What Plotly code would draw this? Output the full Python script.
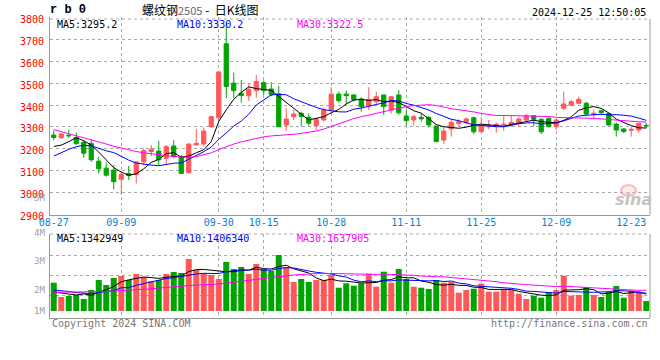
import plotly.graph_objects as go

# ---------------- data ----------------
dates = ["08-27", "08-28", "08-29", "08-30",
         "09-02", "09-03", "09-04", "09-05", "09-06", "09-09", "09-10", "09-11", "09-12", "09-13",
         "09-18", "09-19", "09-20", "09-23", "09-24", "09-25", "09-26", "09-27", "09-30",
         "10-08", "10-09", "10-10", "10-11", "10-14", "10-15", "10-16", "10-17", "10-18",
         "10-21", "10-22", "10-23", "10-24", "10-25", "10-28", "10-29", "10-30", "10-31",
         "11-01", "11-04", "11-05", "11-06", "11-07", "11-08", "11-11", "11-12", "11-13", "11-14", "11-15",
         "11-18", "11-19", "11-20", "11-21", "11-22", "11-25", "11-26", "11-27", "11-28", "11-29",
         "12-02", "12-03", "12-04", "12-05", "12-06", "12-09", "12-10", "12-11", "12-12", "12-13",
         "12-16", "12-17", "12-18", "12-19", "12-20", "12-23", "12-24", "12-25"]

open_ = [3263, 3251, 3262, 3252, 3230, 3225, 3144, 3112, 3103, 3061,
         3088, 3083, 3141, 3188, 3190, 3157, 3213, 3164, 3091, 3218,
         3222, 3301, 3342, 3680, 3500, 3454, 3442, 3466, 3502, 3473,
         3451, 3309, 3347, 3362, 3344, 3306, 3332, 3377, 3450, 3450,
         3446, 3428, 3396, 3415, 3446, 3377, 3446, 3350, 3332, 3344,
         3344, 3304, 3240, 3291, 3316, 3321, 3342, 3278, 3301, 3306,
         3309, 3309, 3316, 3332, 3351, 3335, 3339, 3301, 3385, 3400,
         3408, 3408, 3358, 3374, 3362, 3313, 3291, 3285, 3286, 3307]
high = [3284, 3272, 3286, 3274, 3240, 3240, 3164, 3137, 3126, 3096,
        3122, 3142, 3202, 3218, 3236, 3218, 3240, 3173, 3224, 3291,
        3298, 3350, 3552, 3775, 3548, 3515, 3495, 3537, 3512, 3504,
        3487, 3385, 3377, 3370, 3362, 3340, 3388, 3481, 3461, 3466,
        3449, 3435, 3481, 3461, 3447, 3441, 3469, 3377, 3355, 3362,
        3350, 3305, 3301, 3335, 3335, 3344, 3347, 3344, 3332, 3320,
        3354, 3350, 3344, 3359, 3354, 3339, 3347, 3339, 3461, 3423,
        3438, 3415, 3380, 3380, 3365, 3320, 3294, 3301, 3320, 3318]
low = [3240, 3246, 3250, 3217, 3160, 3141, 3088, 3073, 3015, 2991,
       3058, 3042, 3126, 3167, 3126, 3126, 3157, 3085, 3088, 3216,
       3210, 3296, 3332, 3431, 3431, 3411, 3419, 3434, 3446, 3440,
       3300, 3283, 3332, 3301, 3306, 3286, 3324, 3370, 3411, 3405,
       3415, 3370, 3377, 3400, 3355, 3362, 3355, 3306, 3306, 3324,
       3298, 3232, 3222, 3256, 3301, 3312, 3268, 3276, 3291, 3274,
       3283, 3301, 3301, 3324, 3301, 3268, 3298, 3286, 3377, 3393,
       3404, 3354, 3335, 3354, 3306, 3256, 3271, 3256, 3274, 3294]
close = [3252, 3268, 3260, 3225, 3180, 3150, 3109, 3080, 3050, 3083,
         3078, 3140, 3192, 3198, 3150, 3210, 3165, 3088, 3222, 3225,
         3281, 3347, 3551, 3485, 3466, 3443, 3472, 3507, 3466, 3447,
         3301, 3336, 3359, 3348, 3317, 3335, 3377, 3450, 3420, 3443,
         3424, 3393, 3426, 3438, 3393, 3438, 3365, 3329, 3347, 3337,
         3309, 3233, 3281, 3321, 3324, 3336, 3278, 3306, 3306, 3312,
         3312, 3321, 3336, 3351, 3335, 3278, 3301, 3332, 3405, 3415,
         3426, 3359, 3362, 3365, 3309, 3286, 3279, 3289, 3316, 3305]

ma5 = [3211, 3217, 3233, 3251, 3237, 3217, 3185, 3149, 3114, 3094,
       3080, 3086, 3109, 3138, 3152, 3178, 3183, 3162, 3167, 3182,
       3196, 3233, 3325, 3378, 3426, 3458, 3483, 3475, 3471, 3467,
       3439, 3411, 3382, 3358, 3332, 3339, 3347, 3365, 3380, 3405,
       3423, 3426, 3421, 3425, 3415, 3418, 3412, 3393, 3374, 3363,
       3337, 3311, 3301, 3296, 3294, 3299, 3308, 3313, 3310, 3308,
       3303, 3311, 3317, 3326, 3331, 3324, 3320, 3319, 3330, 3346,
       3376, 3387, 3393, 3385, 3364, 3336, 3320, 3306, 3296, 3295.2]
ma10 = [3167, 3184, 3198, 3210, 3216, 3214, 3201, 3191, 3183, 3166,
        3148.5, 3135.5, 3129, 3126, 3123, 3129, 3134.5, 3135.5, 3152.5, 3167,
        3187, 3208, 3243.5, 3272.5, 3304, 3327, 3358, 3400, 3424.5, 3446.5,
        3448.5, 3447, 3428.5, 3414.5, 3399.5, 3389, 3379, 3373.5, 3369, 3368.5,
        3381, 3386.5, 3393, 3402.5, 3410, 3420.5, 3419, 3407, 3399.5, 3389,
        3377.5, 3361.5, 3347, 3335, 3328.5, 3318, 3309.5, 3307, 3303, 3301,
        3301, 3309.5, 3315, 3318, 3319.5, 3313.5, 3315.5, 3318, 3328, 3338.5,
        3350, 3353.5, 3356, 3357.5, 3355, 3356, 3353.5, 3349.5, 3340.5, 3330.2]
ma30 = [3288, 3279, 3268, 3260, 3252, 3242, 3232, 3222, 3212, 3203,
        3195, 3188, 3182, 3177, 3172, 3168, 3165, 3163, 3161, 3165,
        3172, 3182, 3197, 3210, 3222, 3232, 3240, 3248, 3255, 3259.2,
        3260.8, 3263.1, 3266.4, 3270.5, 3275.1, 3281.3, 3290.2, 3302.5, 3314.8, 3326.8,
        3338.3, 3346.7, 3354.5, 3362.5, 3370.6, 3378.2, 3384.9, 3392.9, 3397.1, 3400.8,
        3401.7, 3397.9, 3388.9, 3383.4, 3378.7, 3375.1, 3368.6, 3361.9, 3356.6, 3352.1,
        3352.5, 3352.0, 3351.2, 3351.3, 3351.9, 3350.0, 3347.5, 3343.6, 3343.1, 3342.2,
        3342.3, 3341.2, 3339.1, 3336.7, 3333.9, 3328.8, 3325.9, 3324.6, 3323.6, 3322.5]

volume = [2236000, 1106000, 1185000, 1264000, 948000, 1659000, 2449000, 2054000, 2607000, 2765000,
          2449000, 2923000, 2686000, 2370000, 2449000, 2923000, 3081000, 3002000, 4108000, 3239000,
          3002000, 2844000, 2528000, 3871000, 3318000, 3476000, 2923000, 3713000, 3318000, 3160000,
          4424000, 3476000, 2291000, 2528000, 2291000, 2449000, 2449000, 2844000, 1841000, 2188000,
          1999000, 2188000, 2947000, 1920000, 3105000, 2236000, 3318000, 2528000, 1920000, 1841000,
          1738000, 2449000, 2236000, 2291000, 1446000, 1659000, 1762000, 2157000, 1525000, 1525000,
          1659000, 1659000, 1367000, 948000, 1209000, 1051000, 1501000, 1659000, 2789000, 1209000,
          1264000, 1896000, 1264000, 1106000, 1501000, 1975000, 1051000, 1604000, 1446000, 790000]
vol_ma5 = [1501000, 1422000, 1343000, 1264000, 1351000, 1232000, 1501000, 1675000, 1943000, 2307000,
           2465000, 2560000, 2686000, 2639000, 2575000, 2670000, 2702000, 2765000, 3113000, 3271000,
           3286000, 3239000, 3144000, 3097000, 3113000, 3207000, 3223000, 3460000, 3350000, 3318000,
           3508000, 3618000, 3334000, 3176000, 3002000, 2607000, 2402000, 2512000, 2378000, 2354000,
           2267000, 2212000, 2236000, 2252000, 2433000, 2481000, 2702000, 2623000, 2623000, 2370000,
           2267000, 2094000, 2038000, 2109000, 2030000, 2015000, 1880000, 1864000, 1706000, 1722000,
           1722000, 1706000, 1548000, 1430000, 1367000, 1248000, 1217000, 1272000, 1643000, 1643000,
           1683000, 1762000, 1683000, 1351000, 1406000, 1548000, 1383000, 1446000, 1517000, 1342949]
vol_ma10 = [1659000, 1620000, 1541000, 1462000, 1406000, 1367000, 1462000, 1509000, 1604000, 1833000,
            1849000, 2030000, 2180000, 2291000, 2441000, 2568000, 2631000, 2726000, 2876000, 2923000,
            2978000, 2970000, 2955000, 3105000, 3192000, 3247000, 3231000, 3302000, 3223000, 3215000,
            3358000, 3421000, 3397000, 3263000, 3160000, 3057000, 3010000, 2923000, 2781000, 2678000,
            2441000, 2307000, 2378000, 2315000, 2394000, 2378000, 2457000, 2433000, 2441000, 2402000,
            2378000, 2402000, 2331000, 2370000, 2204000, 2141000, 1991000, 1951000, 1912000, 1880000,
            1872000, 1793000, 1706000, 1572000, 1548000, 1485000, 1462000, 1414000, 1541000, 1509000,
            1469000, 1493000, 1477000, 1501000, 1525000, 1620000, 1572000, 1564000, 1438000, 1406340]
vol_ma30 = [1477000, 1477000, 1477000, 1477000, 1485000, 1501000, 1525000, 1548000, 1572000, 1596000,
            1627000, 1667000, 1706000, 1746000, 1809000, 1872000, 1928000, 1975000, 2007000, 2046000,
            2070000, 2094000, 2133000, 2204000, 2291000, 2354000, 2417000, 2496000, 2575000, 2655000,
            2728000, 2807000, 2844000, 2886000, 2931000, 2957000, 2957000, 2984000, 2958000, 2939000,
            2924000, 2899000, 2908000, 2893000, 2915000, 2892000, 2900000, 2884000, 2812000, 2765000,
            2722000, 2710000, 2699000, 2647000, 2585000, 2524000, 2485000, 2433000, 2374000, 2319000,
            2227000, 2166000, 2135000, 2083000, 2047000, 2000000, 1969000, 1929000, 1961000, 1928000,
            1904000, 1894000, 1838000, 1811000, 1757000, 1748000, 1673000, 1642000, 1627000, 1637905]

date_tick_labels = ["08-27", "09-09", "09-30", "10-15", "10-28", "11-11", "11-25", "12-09", "12-23"]
grid_dates = ["09-09", "09-30", "10-15", "10-28", "11-11", "11-25", "12-09"]
price_ticks = [2900, 3000, 3100, 3200, 3300, 3400, 3500, 3600, 3700, 3800]
vol_tick_labels = ["5M", "4M", "3M", "2M", "1M"]

title_name = "螺纹钢"
title_code = "2505"
title_rest = " -  日K线图"
symbol = "r b 0"
timestamp = "2024-12-25 12:50:05"

# ---------------- styling ----------------
RED = "#ff5858"
GREEN = "#00a400"
GRID = "#a8a8a8"
AXIS = "#999999"
MONO = "DejaVu Sans Mono"

x = list(range(len(dates)))
tick_idx = [dates.index(d) for d in date_tick_labels]
grid_idx = [dates.index(d) for d in grid_dates]

# pixel helpers (plot area: x 50..650, y 17..318)
def px(xp):
    return (xp - 50) / 600.0

def py(yp):
    return (318 - yp) / 301.0

fig = go.Figure()

fig.add_trace(go.Candlestick(
    x=x, open=open_, high=high, low=low, close=close,
    increasing=dict(line=dict(color=RED, width=1), fillcolor=RED),
    decreasing=dict(line=dict(color=GREEN, width=1), fillcolor=GREEN),
    whiskerwidth=0, xaxis="x", yaxis="y", showlegend=False, hoverinfo="skip"))

for vals, col in [(ma5, "#000000"), (ma10, "#0000ff"), (ma30, "#ff00ff")]:
    fig.add_trace(go.Scatter(x=x, y=vals, mode="lines", line=dict(color=col, width=1),
                             xaxis="x", yaxis="y", showlegend=False, hoverinfo="skip"))

bar_colors = [RED if c >= o else GREEN for o, c in zip(open_, close)]
fig.add_trace(go.Bar(x=x, y=volume, marker=dict(color=bar_colors, line=dict(width=0)),
                     xaxis="x2", yaxis="y2", showlegend=False, hoverinfo="skip"))
for vals, col in [(vol_ma5, "#000000"), (vol_ma10, "#0000ff"), (vol_ma30, "#ff00ff")]:
    fig.add_trace(go.Scatter(x=x, y=vals, mode="lines", line=dict(color=col, width=1),
                             xaxis="x2", yaxis="y2", showlegend=False, hoverinfo="skip"))

grid_minor = dict(tickmode="array", tickvals=grid_idx, showgrid=True, gridcolor=GRID,
                  griddash="dot", gridwidth=1, ticks="")

price_dom_bottom = py(214.6)
vol_dom_top = py(234)

fig.update_layout(
    width=660, height=360,
    margin=dict(l=50, r=10, t=17, b=42),
    paper_bgcolor="white", plot_bgcolor="white",
    bargap=0.2, boxgap=0.2,
    showlegend=False,
    xaxis=dict(domain=[0, 1], anchor="y", range=[-0.5, 79.5], rangeslider=dict(visible=False),
               tickmode="array", tickvals=tick_idx, ticktext=date_tick_labels,
               tickfont=dict(family=MONO, size=10, color="#0a7fcf"), ticks="", showgrid=False,
               ticklabelstandoff=-2,
               minor=grid_minor, showline=True, linecolor=AXIS, linewidth=1, zeroline=False),
    yaxis=dict(domain=[price_dom_bottom, 1], anchor="x", range=[2900, 3801.8],
               tickmode="array", tickvals=price_ticks, ticktext=[str(v) for v in price_ticks],
               tickfont=dict(family=MONO, size=10, color="#ff0000"), ticks="",
               ticklabelshift=2, ticklabelstandoff=3,
               showgrid=True, gridcolor=GRID, griddash="dot", gridwidth=1,
               showline=True, linecolor=AXIS, linewidth=1, zeroline=False),
    xaxis2=dict(domain=[0, 1], anchor="y2", range=[-0.5, 79.5], showticklabels=False,
                ticks="", showgrid=False, minor=grid_minor, showline=True, linecolor=AXIS,
                linewidth=1, zeroline=False),
    yaxis2=dict(domain=[0, vol_dom_top], anchor="x2", range=[-553000, 6083000],
                tickmode="array", tickvals=[1264000, 2820300, 4368700], showticklabels=False,
                ticks="", showgrid=True, gridcolor=GRID, griddash="dot", gridwidth=1,
                showline=True, linecolor=AXIS, linewidth=1, zeroline=False),
)

shapes = [
    # price panel right border and dotted top border
    dict(type="line", xref="paper", yref="paper", x0=1, x1=1, y0=price_dom_bottom, y1=py(19),
         line=dict(color=AXIS, width=1)),
    dict(type="line", xref="paper", yref="paper", x0=0, x1=1, y0=py(19), y1=py(19),
         line=dict(color=GRID, width=1, dash="dot")),
    # volume panel right border and dotted top border
    dict(type="line", xref="paper", yref="paper", x0=1, x1=1, y0=0, y1=vol_dom_top,
         line=dict(color=AXIS, width=1)),
    dict(type="line", xref="paper", yref="paper", x0=0, x1=1, y0=vol_dom_top, y1=vol_dom_top,
         line=dict(color=GRID, width=1, dash="dot")),
    # sina watermark eye
    dict(type="circle", xref="paper", yref="paper", x0=px(621), x1=px(636), y0=py(196), y1=py(185),
         line=dict(color="rgba(240,140,140,0.55)", width=2), fillcolor="rgba(250,200,200,0.35)"),
]
fig.update_layout(shapes=shapes)

ann = []
def text(xp, yp, s, color="#000", size=10, family=MONO, xanchor="left", **kw):
    ann.append(dict(x=px(xp), y=py(yp), xref="paper", yref="paper", text=s, showarrow=False,
                    xanchor=xanchor, yanchor="middle",
                    font=dict(family=family, size=size, color=color), **kw))

# header
text(48, 10, "<b>" + symbol + "</b>", size=12, family="Liberation Mono")
text(140, 10, title_name + "<span style='color:#666666;font-size:11px'>" + title_code
     + "</span>" + title_rest, size=12, family="Noto Sans CJK SC")
text(648, 12, timestamp, size=10, xanchor="right")

# price legend
text(55, 24, "MA5:%.1f" % ma5[-1], color="#000000")
text(175, 24, "MA10:%.1f" % ma10[-1], color="#0000ff")
text(295, 24, "MA30:%.1f" % ma30[-1], color="#ff00ff")

# volume legend
text(55, 239, "MA5:%d" % vol_ma5[-1], color="#000000")
text(175, 239, "MA10:%d" % vol_ma10[-1], color="#0000ff")
text(295, 239, "MA30:%d" % vol_ma30[-1], color="#ff00ff")

# volume axis labels (small size keeps them clear of neighbouring labels)
for lab, yp in zip(vol_tick_labels, [198, 233, 261, 290, 311]):
    text(47, yp, lab, color="#a0a0a0", xanchor="right", size=9)

# footer
text(50, 323, "Copyright 2024 SINA.COM", color="#777777")
text(650, 323, "http://finance.sina.com.cn", color="#777777", xanchor="right")

# watermark
text(633, 199, "<b><i>sina</i></b>", color="#c4c4c4", size=16, family="DejaVu Sans", xanchor="center")

fig.update_layout(annotations=ann)
fig.write_html("out.html", config={"displayModeBar": False, "staticPlot": True},
               post_script="document.body.style.margin='0';document.body.style.padding='0';")
